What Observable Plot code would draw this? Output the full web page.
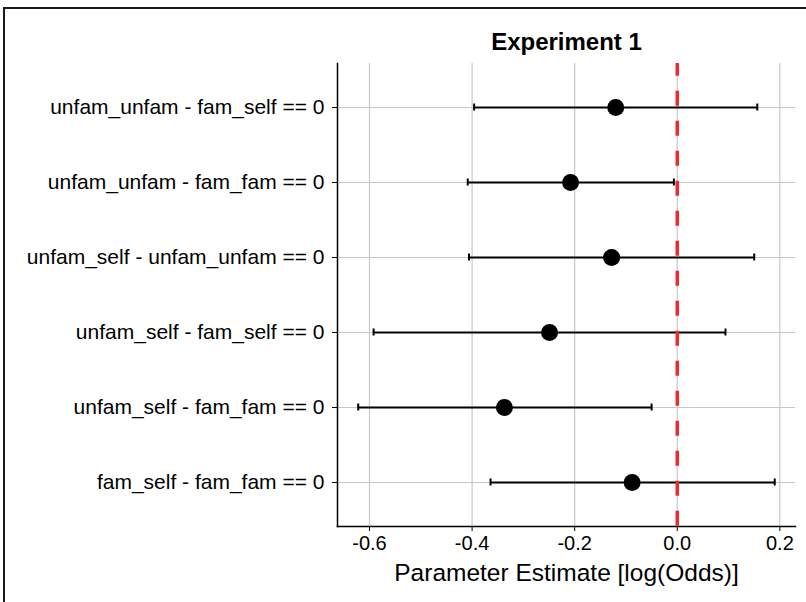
<!DOCTYPE html>
<html>
<head>
<meta charset="utf-8">
<script src="https://cdn.jsdelivr.net/npm/d3@7"></script>
<script src="https://cdn.jsdelivr.net/npm/@observablehq/plot@0.6"></script>
<style>
  html, body { margin: 0; padding: 0; background: #fff; overflow: hidden; }
  #wrap { position: absolute; left: 0; top: 0; width: 806px; height: 602px; }
  #border { position: absolute; left: 3px; top: 7px; width: 900px; height: 700px; border-left: 2px solid #1a1a1a; border-top: 2px solid #1a1a1a; pointer-events: none; }
</style>
</head>
<body>
<div id="wrap"></div>
<div id="border"></div>
<script>
const contrasts = [
  "unfam_unfam - fam_self == 0",
  "unfam_unfam - fam_fam == 0",
  "unfam_self - unfam_unfam == 0",
  "unfam_self - fam_self == 0",
  "unfam_self - fam_fam == 0",
  "fam_self - fam_fam == 0"
];
const estimates = [-0.120, -0.208, -0.128, -0.249, -0.337, -0.088];
const lower     = [-0.396, -0.4085, -0.406, -0.592, -0.622, -0.364];
const upper     = [0.156, -0.0066, 0.150, 0.094, -0.050, 0.190];
const xTicks = [-0.6, -0.4, -0.2, 0.0, 0.2];
const refLine = [0];
const titleText = ["Experiment 1"];
const xLabelText = ["Parameter Estimate [log(Odds)]"];

const rows = contrasts.map((c, i) => ({contrast: c, est: estimates[i], lo: lower[i], hi: upper[i]}));

const font = "'Liberation Sans', Arial, Helvetica, sans-serif";

const chart = Plot.plot({
  width: 806,
  height: 602,
  marginLeft: 337,
  marginRight: 11,
  marginTop: 63,
  marginBottom: 76,
  style: {fontFamily: font, fontSize: "20px", color: "#000", background: "transparent", overflow: "visible"},
  x: {domain: [-0.6624, 0.2305]},
  y: {type: "band", domain: contrasts, paddingInner: 0, paddingOuter: 0.087, round: false},
  marks: [
    Plot.gridX(xTicks, {stroke: "#c8c8c8", strokeOpacity: 1, strokeWidth: 1.2}),
    Plot.gridY(contrasts, {stroke: "#c8c8c8", strokeOpacity: 1, strokeWidth: 1.2}),
    Plot.axisX(xTicks, {tickSize: 5, tickPadding: 4, fontSize: 20, stroke: "#000", fill: "#000", tickFormat: d => d.toFixed(1), label: null}),
    Plot.axisY(contrasts, {tickSize: 5, tickPadding: 8, fontSize: 21, stroke: "#000", fill: "#000", label: null}),
    Plot.frame({anchor: "left", stroke: "#000", strokeWidth: 1.5}),
    Plot.frame({anchor: "bottom", stroke: "#000", strokeWidth: 1.5}),
    Plot.ruleY(rows, {y: "contrast", x1: "lo", x2: "hi", stroke: "#000", strokeWidth: 2}),
    Plot.tickX(rows, {x: "lo", y: "contrast", stroke: "#000", strokeWidth: 2, insetTop: 34, insetBottom: 34}),
    Plot.tickX(rows, {x: "hi", y: "contrast", stroke: "#000", strokeWidth: 2, insetTop: 34, insetBottom: 34}),
    Plot.dot(rows, {x: "est", y: "contrast", r: 8.5, fill: "#000", stroke: "none"}),
    Plot.ruleX(refLine, {stroke: "#ee2a2f", strokeWidth: 3.5, strokeDasharray: "15,15", strokeDashoffset: 2.3}),
    Plot.text(titleText, {frameAnchor: "top", dy: -21.5, lineAnchor: "middle", fontSize: 24, fontWeight: "bold", fill: "#000"}),
    Plot.text(xLabelText, {frameAnchor: "bottom", dy: 46.5, lineAnchor: "middle", fontSize: 24.5, fill: "#000"})
  ]
});

document.getElementById("wrap").appendChild(chart);
</script>
</body>
</html>
